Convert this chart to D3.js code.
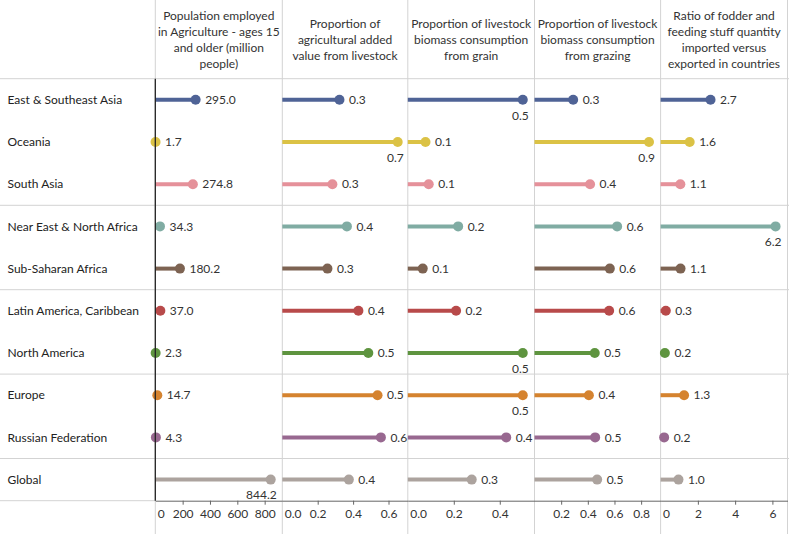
<!DOCTYPE html>
<html><head><meta charset="utf-8">
<script src="https://cdn.jsdelivr.net/npm/d3@7"></script>
<style>
html,body{margin:0;padding:0;background:#fff;}
svg text{font-family:Lato,"Open Sans",sans-serif;}
</style></head>
<body><svg id="chart" width="789" height="534"></svg>
<script>
const regions = ["East & Southeast Asia","Oceania","South Asia","Near East & North Africa","Sub-Saharan Africa","Latin America, Caribbean","North America","Europe","Russian Federation","Global"];
const regionColors = ["#4f6396","#dbc245","#e5919a","#80aca3","#7d6352","#b84a4a","#5e943f","#d5832f","#986890","#aca39e"];
const popEmployed = [295.0,1.7,274.8,34.3,180.2,37.0,2.3,14.7,4.3,844.2];
const addedValueShare = [0.323,0.652,0.283,0.365,0.255,0.43,0.486,0.538,0.557,0.376];
const grainShare = [0.5,0.077,0.091,0.219,0.065,0.21,0.5,0.5,0.428,0.278];
const grazingShare = [0.29,0.859,0.417,0.62,0.565,0.56,0.452,0.408,0.455,0.47];
const fodderRatio = [2.68,1.56,1.06,6.17,1.07,0.28,0.23,1.26,0.19,0.96];
const measureTitles = [
  ["Population employed","in Agriculture - ages 15","and older (million","people)"],
  ["Proportion of","agricultural added","value from livestock"],
  ["Proportion of livestock","biomass consumption","from grain"],
  ["Proportion of livestock","biomass consumption","from grazing"],
  ["Ratio of fodder and","feeding stuff quantity","imported versus","exported in countries"]
];
const tickValues = [[0,200,400,600,800],[0,0.2,0.4,0.6],[0,0.2,0.4],[0.2,0.4,0.6,0.8],[0,2,4,6]];
const tickFormats = [d3.format("d"), d3.format(".1f"), d3.format(".1f"), d3.format(".1f"), d3.format("d")];
const domainMax = [929,0.709,0.551,0.946,6.81];
const series = [popEmployed, addedValueShare, grainShare, grazingShare, fodderRatio];

// layout
const W = 789, H = 534;
const edges = [155.3,282.3,407.8,534.5,660.6,787.5];
const headerBottom = 78.7, plotBottom = 500.7;
const groupBreaks = [3,5,7,9];
const svg = d3.select("#chart");
const grid = "#d3d3d3";
const txt = "#333";

const y = d3.scaleBand().domain(regions).range([headerBottom, plotBottom]);

// vertical panel borders
edges.forEach((e,i)=>{
  svg.append("line").attr("x1",e).attr("x2",e).attr("y1",0).attr("y2",H)
    .attr("stroke", grid).attr("stroke-width",1);
});
// header line & group separators
svg.append("line").attr("x1",0).attr("x2",W).attr("y1",headerBottom).attr("y2",headerBottom).attr("stroke",grid);
groupBreaks.forEach(b=>{
  const yy = y(regions[b]);
  svg.append("line").attr("x1",0).attr("x2",W).attr("y1",yy).attr("y2",yy).attr("stroke",grid);
});
svg.append("line").attr("x1",0).attr("x2",edges[0]).attr("y1",plotBottom).attr("y2",plotBottom).attr("stroke",grid);

// row labels
svg.append("g").selectAll("text").data(regions).join("text")
  .attr("x",7.5).attr("y",d=>y(d)+y.bandwidth()/2).attr("dy","0.35em")
  .attr("font-size",12).attr("fill","#222").text(d=>d);

// panels
series.forEach((vals,p)=>{
  const x = d3.scaleLinear().domain([0,domainMax[p]]).range([edges[p],edges[p+1]]);
  const g = svg.append("g");
  // header
  const lines = measureTitles[p];
  const cx = (edges[p]+edges[p+1])/2;
  const lh = 15.8, mid = 39.8;
  g.append("text").attr("text-anchor","middle").attr("font-size",12).attr("fill",txt)
    .selectAll("tspan").data(lines).join("tspan")
    .attr("x",cx).attr("y",(d,i)=>mid + (i-(lines.length-1)/2)*lh).attr("dy","0.35em").text(d=>d);
  // axis
  const ax = g.append("g").attr("transform",`translate(0,${plotBottom})`)
    .call(d3.axisBottom(x).tickValues(tickValues[p]).tickFormat(tickFormats[p]).tickSize(4).tickSizeOuter(0));
  ax.select(".domain").attr("stroke","#666");
  ax.selectAll(".tick line").attr("stroke","#666").attr("display",d=>d===0?"none":null);
  ax.selectAll(".tick text").attr("font-size",12).attr("font-family","Lato,'Open Sans',sans-serif")
    .attr("fill",txt).attr("y",9)
    .attr("text-anchor",d=>d===0?"start":"middle").attr("dx",d=>d===0?"2":"0");
  // lollipops
  const rows = regions.map((r,i)=>({r, v:vals[i], c:regionColors[i]}));
  g.selectAll("line.stem").data(rows).join("line").attr("class","stem")
    .attr("x1",x(0)).attr("x2",d=>x(d.v))
    .attr("y1",d=>y(d.r)+y.bandwidth()/2).attr("y2",d=>y(d.r)+y.bandwidth()/2)
    .attr("stroke",d=>d.c).attr("stroke-width",4);
  g.selectAll("circle").data(rows).join("circle")
    .attr("cx",d=>x(d.v)).attr("cy",d=>y(d.r)+y.bandwidth()/2).attr("r",5).attr("fill",d=>d.c);
  const fmt = d3.format(".1f");
  g.selectAll("text.val").data(rows).join("text").attr("class","val")
    .attr("font-size",12).attr("fill",txt).text(d=>fmt(d.v))
    .each(function(d){
      const w = this.getComputedTextLength();
      const px = x(d.v), py = y(d.r)+y.bandwidth()/2;
      const sel = d3.select(this);
      if (px + 9.5 + w > edges[p+1]) {
        sel.attr("x",px+6).attr("y",py+15.5).attr("dy","0.35em").attr("text-anchor","end");
      } else {
        sel.attr("x",px+9.5).attr("y",py).attr("dy","0.35em").attr("text-anchor","start");
      }
    });
});
// black left axis line in plot area
svg.append("line").attr("x1",edges[0]).attr("x2",edges[0]).attr("y1",headerBottom).attr("y2",plotBottom)
  .attr("stroke","#222").attr("stroke-width",1.3);
</script></body></html>
